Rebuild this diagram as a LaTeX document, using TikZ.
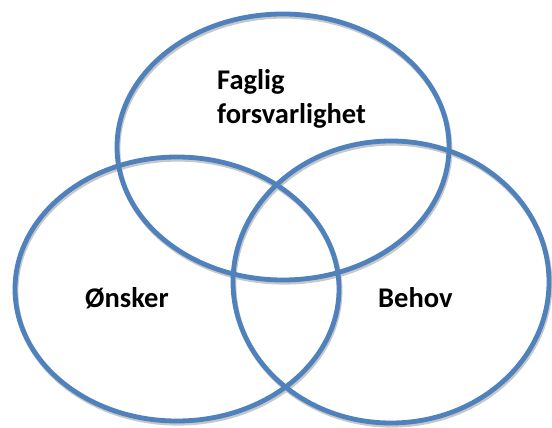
\documentclass[tikz,border=0pt]{standalone}
\usepackage{fontspec}
\setmainfont{Carlito}
\definecolor{vennblue}{HTML}{4F81BD}
\definecolor{vennshadow}{HTML}{C8C8C8}
\begin{document}
\begin{tikzpicture}[x=1pt,y=-1pt,
  ring/.style={draw=vennblue,line width=4.8pt},
  ringshadow/.style={draw=vennshadow,line width=4.8pt},
  lbl/.style={anchor=base west,inner sep=0pt,font=\fontsize{28.5}{33}\selectfont\bfseries,text=black}]
\useasboundingbox[fill=white] (0,0) rectangle (552,428);
% shadows
\begin{scope}[shift={(1,2.2)}]
\draw[ringshadow] (283,147) ellipse [x radius=166, y radius=133];
\draw[ringshadow] (177,289) ellipse [x radius=162, y radius=132];
\draw[ringshadow] (391,282) ellipse [x radius=158, y radius=141];
\end{scope}
% rings
\draw[ring] (283,147) ellipse [x radius=166, y radius=133];
\draw[ring] (177,289) ellipse [x radius=162, y radius=132];
\draw[ring] (391,282) ellipse [x radius=158, y radius=141];
% labels
\node[lbl] (faglig) at (217,90) {Faglig};
\node[lbl] (forsv) at (217,123) {forsvarlighet};
\node[lbl] (onsker) at (85,307) {Ønsker};
\node[lbl] (behov) at (378,307) {Behov};
\end{tikzpicture}
\end{document}
